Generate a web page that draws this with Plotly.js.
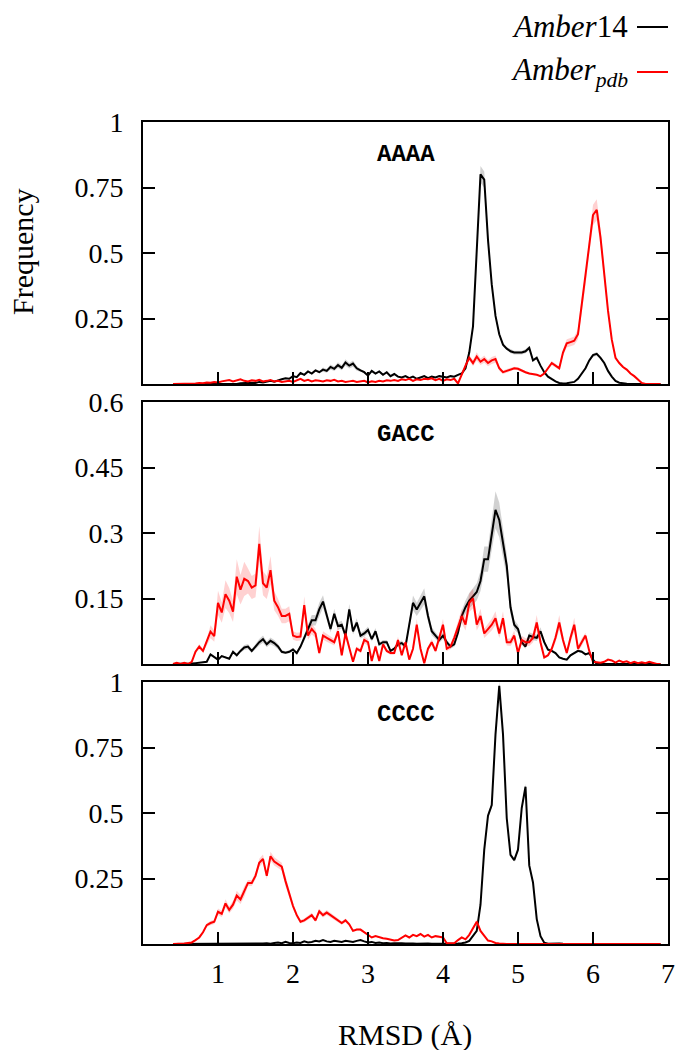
<!DOCTYPE html>
<html>
<head>
<meta charset="utf-8">
<script src="https://cdn.plot.ly/plotly-3.0.1.min.js"></script>
<style>html,body{margin:0;padding:0;background:#fff;}#chart{width:675px;height:1050px;}</style>
</head>
<body>
<div id="chart"></div>
<script>
// RMSD bin centres (Å)
const rmsd = [
0.40,0.45,0.50,0.55,0.60,0.65,0.70,0.75,0.80,0.85,
0.90,0.95,1.00,1.05,1.10,1.15,1.20,1.25,1.30,1.35,
1.40,1.45,1.50,1.55,1.60,1.65,1.70,1.75,1.80,1.85,
1.90,1.95,2.00,2.05,2.10,2.15,2.20,2.25,2.30,2.35,
2.40,2.45,2.50,2.55,2.60,2.65,2.70,2.75,2.80,2.85,
2.90,2.95,3.00,3.05,3.10,3.15,3.20,3.25,3.30,3.35,
3.40,3.45,3.50,3.55,3.60,3.65,3.70,3.75,3.80,3.85,
3.90,3.95,4.00,4.05,4.10,4.15,4.20,4.25,4.30,4.35,
4.40,4.45,4.50,4.55,4.60,4.65,4.70,4.75,4.80,4.85,
4.90,4.95,5.00,5.05,5.10,5.15,5.20,5.25,5.30,5.35,
5.40,5.45,5.50,5.55,5.60,5.65,5.70,5.75,5.80,5.85,
5.90,5.95,6.00,6.05,6.10,6.15,6.20,6.25,6.30,6.35,
6.40,6.45,6.50,6.55,6.60,6.65,6.70,6.75,6.80,6.85,
6.90];

// AAAA
const amber14_AAAA = [
0,0,0,0,0,0,0,0,0,0,
0,0,0,0,0,0,0.002,0,0.003,0.004,
0.003,0.005,0.004,0.008,0.006,0.01,0.012,0.009,0.015,0.018,
0.022,0.02,0.03,0.026,0.042,0.035,0.048,0.04,0.052,0.045,
0.055,0.05,0.065,0.058,0.072,0.062,0.082,0.07,0.078,0.06,
0.052,0.045,0.032,0.05,0.04,0.048,0.035,0.045,0.03,0.038,
0.028,0.025,0.03,0.022,0.028,0.02,0.025,0.03,0.022,0.028,
0.025,0.03,0.028,0.025,0.03,0.028,0.035,0.04,0.06,0.12,
0.22,0.5,0.8,0.78,0.55,0.38,0.26,0.19,0.15,0.135,
0.125,0.12,0.12,0.12,0.125,0.138,0.09,0.1,0.07,0.045,
0.028,0.018,0.01,0.004,0.002,0.003,0.005,0.008,0.02,0.04,
0.06,0.09,0.11,0.115,0.1,0.08,0.05,0.028,0.012,0.005,
0.002,0.001,0,0,0,0,0,0,0,0,
0];
const amberpdb_AAAA = [
0,0,0,0,0,0,0.002,0.004,0.003,0.006,
0.005,0.008,0.006,0.01,0.012,0.015,0.01,0.014,0.018,0.012,
0.01,0.014,0.012,0.016,0.01,0.012,0.015,0.01,0.012,0.008,
0.01,0.012,0.008,0.015,0.02,0.012,0.016,0.01,0.014,0.012,
0.01,0.014,0.012,0.016,0.01,0.012,0.008,0.01,0.012,0.008,
0.01,0.012,0.006,0.01,0.008,0.012,0.01,0.014,0.012,0.015,
0.012,0.018,0.015,0.02,0.012,0.018,0.015,0.02,0.018,0.022,
0.015,0.02,0.012,0.018,0.015,0.02,0.002,0.04,0.07,0.1,
0.08,0.105,0.085,0.095,0.08,0.09,0.095,0.06,0.045,0.05,
0.055,0.06,0.058,0.05,0.045,0.04,0.038,0.035,0.03,0.04,
0.06,0.08,0.07,0.06,0.12,0.155,0.16,0.165,0.19,0.3,
0.4,0.53,0.645,0.665,0.56,0.42,0.28,0.17,0.1,0.08,
0.065,0.055,0.04,0.03,0.015,0.004,0,0,0,0,
0];

// GACC
const amber14_GACC = [
0,0,0,0,0,0.001,0.002,0.003,0.005,0.005,
0.022,0.015,0.01,0.018,0.015,0.012,0.028,0.02,0.03,0.038,
0.04,0.03,0.04,0.05,0.057,0.045,0.053,0.048,0.04,0.028,
0.026,0.028,0.033,0.025,0.04,0.06,0.08,0.1,0.1,0.125,
0.143,0.112,0.08,0.115,0.087,0.09,0.065,0.125,0.075,0.095,
0.065,0.07,0.078,0.057,0.075,0.045,0.05,0.05,0.03,0.035,
0.045,0.048,0.04,0.09,0.14,0.125,0.14,0.155,0.11,0.075,
0.065,0.055,0.065,0.05,0.04,0.045,0.072,0.11,0.13,0.145,
0.155,0.165,0.19,0.24,0.24,0.3,0.353,0.33,0.28,0.225,
0.13,0.09,0.08,0.05,0.04,0.065,0.062,0.06,0.075,0.05,
0.033,0.03,0.025,0.015,0.012,0.01,0.02,0.025,0.03,0.028,
0.022,0.025,0.01,0,0,0,0,0,0,0,
0,0,0,0,0,0,0,0,0,0,
0];
const amberpdb_GACC = [
0,0.003,0,0.003,0,0.005,0.028,0.04,0.03,0.05,
0.074,0.064,0.14,0.118,0.16,0.145,0.12,0.2,0.17,0.195,
0.19,0.175,0.18,0.275,0.185,0.175,0.215,0.145,0.13,0.11,
0.11,0.115,0.065,0.062,0.063,0.135,0.065,0.08,0.07,0.025,
0.065,0.06,0.055,0.05,0.075,0.02,0.07,0.04,0.005,0.035,
0.03,0.055,0.05,0.007,0.04,0.007,0.045,0.03,0.025,0.025,
0.055,0.02,0.05,0.01,0.035,0.09,0.035,0.002,0.035,0.05,
0.03,0.06,0.09,0.035,0.04,0.06,0.083,0.11,0.09,0.14,
0.15,0.09,0.11,0.07,0.08,0.09,0.105,0.07,0.105,0.05,
0.05,0.065,0.025,0.055,0.05,0.05,0.06,0.095,0.05,0.015,
0.02,0.035,0.06,0.095,0.055,0.025,0.06,0.09,0.035,0.05,
0.065,0.03,0.005,0.004,0.003,0.005,0.01,0.008,0.003,0.008,
0.004,0.006,0.002,0.005,0.002,0.004,0.002,0.005,0.002,0,
0];

// CCCC
const amber14_CCCC = [
0,0,0,0,0,0,0,0,0,0,
0,0,0,0,0,0,0,0,0,0,
0,0,0.001,0,0.002,0.003,0.001,0.004,0.006,0.003,
0.008,0.004,0.003,0.006,0.004,0.01,0.006,0.008,0.012,0.01,
0.015,0.01,0.008,0.012,0.01,0.008,0.012,0.01,0.008,0.012,
0.015,0.01,0.006,0.008,0.004,0.006,0.003,0.004,0.002,0.003,
0.004,0.003,0.002,0.003,0.002,0.001,0.002,0.001,0.002,0.001,
0.001,0.001,0,0,0,0.001,0.002,0.003,0.006,0.012,
0.03,0.05,0.15,0.36,0.49,0.53,0.8,0.985,0.8,0.48,
0.34,0.32,0.36,0.52,0.6,0.3,0.235,0.095,0.03,0.005,
0.001,0.002,0.001,0.002,0.001,0,0,0,0,0,
0,0,0,0,0,0,0,0,0,0,
0,0,0,0,0,0,0,0,0,0,
0];
const amberpdb_CCCC = [
0,0,0.001,0.002,0.004,0.006,0.015,0.025,0.045,0.072,
0.08,0.085,0.123,0.115,0.155,0.13,0.15,0.185,0.17,0.2,
0.233,0.233,0.26,0.31,0.325,0.26,0.335,0.315,0.305,0.295,
0.24,0.19,0.145,0.11,0.085,0.09,0.1,0.11,0.09,0.125,
0.11,0.12,0.11,0.1,0.09,0.08,0.09,0.075,0.05,0.055,
0.055,0.045,0.038,0.025,0.03,0.025,0.022,0.02,0.015,0.013,
0.015,0.025,0.033,0.025,0.035,0.03,0.038,0.028,0.035,0.025,
0.03,0.028,0.025,0.003,0.002,0.003,0.015,0.025,0.018,0.035,
0.06,0.085,0.05,0.03,0.013,0.01,0.004,0.002,0,0,
0,0,0,0,0,0,0,0,0,0,
0,0,0,0,0,0,0,0,0,0,
0,0,0,0,0,0,0,0,0,0,
0,0,0,0,0,0,0,0,0,0,
0];

// relative spread of the shaded band, one value per 0.5 Å block
const spread14_AAAA  = [0,0,0,0.1,0.15,0.1,0.1,0.08,0.04,0.06,0.08,0.06,0.05,0];
const spreadpdb_AAAA = [0.1,0.1,0.1,0.1,0.1,0.1,0.1,0.1,0.15,0.1,0.1,0.06,0.08,0];
const spread14_GACC  = [0.1,0.15,0.15,0.12,0.1,0.1,0.12,0.12,0.12,0.12,0.1,0.1,0.1,0];
const spreadpdb_GACC = [0.15,0.2,0.15,0.15,0.15,0.15,0.15,0.15,0.15,0.18,0.18,0.1,0.1,0];
const spread14_CCCC  = [0,0,0,0.05,0.05,0.05,0.05,0.05,0.02,0.02,0.02,0,0,0];
const spreadpdb_CCCC = [0.1,0.1,0.05,0.08,0.08,0.08,0.08,0.1,0.1,0.1,0,0,0,0];

const panelNames = ['AAAA','GACC','CCCC'];
const xTicks = [1,2,3,4,5,6,7];
const yTicksA = [0.25,0.5,0.75,1];
const yTicksB = [0.15,0.3,0.45,0.6];

const BLACK = '#000000', RED = '#ff0000';
const GREYBAND = 'rgba(0,0,0,0.18)', PINKBAND = 'rgba(255,0,0,0.18)';

const traces = [];
function addSeries(xa, ya, vals, spread, color, band) {
  const lo = vals.map((v,i) => v*(1 - spread[Math.floor(i/10)]));
  const hi = vals.map((v,i) => v*(1 + spread[Math.floor(i/10)]));
  traces.push({x: rmsd, y: lo, xaxis: xa, yaxis: ya, type:'scatter', mode:'lines',
    line:{width:0, color: band}, hoverinfo:'skip', showlegend:false});
  traces.push({x: rmsd, y: hi, xaxis: xa, yaxis: ya, type:'scatter', mode:'lines',
    line:{width:0, color: band}, fill:'tonexty', fillcolor: band, hoverinfo:'skip', showlegend:false});
  traces.push({x: rmsd, y: vals, xaxis: xa, yaxis: ya, type:'scatter', mode:'lines',
    line:{width:2, color: color}, showlegend:false});
}
addSeries('x','y', amber14_AAAA, spread14_AAAA, BLACK, GREYBAND);
addSeries('x','y', amberpdb_AAAA, spreadpdb_AAAA, RED, PINKBAND);
addSeries('x2','y2', amber14_GACC, spread14_GACC, BLACK, GREYBAND);
addSeries('x2','y2', amberpdb_GACC, spreadpdb_GACC, RED, PINKBAND);
addSeries('x3','y3', amber14_CCCC, spread14_CCCC, BLACK, GREYBAND);
addSeries('x3','y3', amberpdb_CCCC, spreadpdb_CCCC, RED, PINKBAND);

const SERIF = 'Liberation Serif, Times New Roman, serif';
const MONO = 'Liberation Mono, DejaVu Sans Mono, monospace';
const H = 1050, W = 675, ML = 143, MR = 7;
const PW = W - ML - MR;
const dom = (top, bot) => [1 - bot/H, 1 - top/H];
const px = p => (p - ML) / PW;    // pixel x -> paper x
const py = p => 1 - p / H;        // pixel y -> paper y

function xax(anchor, labels) {
  return {anchor: anchor, range:[0,7], tickvals: xTicks, ticks:'inside', ticklen:12, tickwidth:2,
    tickcolor:'#000', showline:true, linewidth:2, linecolor:'#000', mirror:true,
    showgrid:false, zeroline:false, showticklabels: labels, ticklabelstandoff: 3,
    tickfont:{family: SERIF, size: 28, color:'#000'}};
}
function yax(anchor, domain, range, ticks) {
  return {anchor: anchor, domain: domain, range: range, tickvals: ticks, ticks:'inside', ticklen:12,
    tickwidth:2, tickcolor:'#000', showline:true, linewidth:2, linecolor:'#000', mirror:'ticks',
    showgrid:false, zeroline:false, ticklabelstandoff: 12,
    tickfont:{family: SERIF, size: 28, color:'#000'}};
}

const panelFont = {family: MONO, size:24, color:'#000', weight:'bold'};
const annotations = [
  {xref:'x', yref:'y domain', x:3.5, y:0.875, xanchor:'center', yanchor:'middle', text: panelNames[0],
    showarrow:false, font: panelFont},
  {xref:'x2', yref:'y2 domain', x:3.5, y:0.875, xanchor:'center', yanchor:'middle', text: panelNames[1],
    showarrow:false, font: panelFont},
  {xref:'x3', yref:'y3 domain', x:3.5, y:0.875, xanchor:'center', yanchor:'middle', text: panelNames[2],
    showarrow:false, font: panelFont},
  {xref:'paper', yref:'paper', x: px(22), y: py(252), xanchor:'center', yanchor:'middle',
    text:'Frequency', textangle:-90, showarrow:false, font:{family: SERIF, size: 30, color:'#000'}},
  {xref:'paper', yref:'paper', x: px(405), y: py(1035), xanchor:'center', yanchor:'middle',
    text:'RMSD (Å)', showarrow:false, font:{family: SERIF, size: 30, color:'#000'}},
  {xref:'paper', yref:'paper', x: px(630), y: py(27), xanchor:'right', yanchor:'middle',
    text:'<i>Amber</i>14', showarrow:false, font:{family: SERIF, size: 31, color:'#000'}},
  {xref:'paper', yref:'paper', x: px(630), y: py(72), xanchor:'right', yanchor:'middle',
    text:'<i>Amber</i><sub><i>pdb</i></sub>', showarrow:false, font:{family: SERIF, size: 31, color:'#000'}}
];
const shapes = [
  {type:'line', xref:'paper', yref:'paper', x0: px(637), x1: px(668), y0: py(27), y1: py(27),
    line:{color: BLACK, width:2}},
  {type:'line', xref:'paper', yref:'paper', x0: px(637), x1: px(668), y0: py(72), y1: py(72),
    line:{color: RED, width:2}}
];

const layout = {
  width: W, height: H,
  margin:{l:ML, r:MR, t:0, b:0},
  paper_bgcolor:'#fff', plot_bgcolor:'#fff',
  showlegend:false,
  xaxis: xax('y', false),
  xaxis2: xax('y2', false),
  xaxis3: xax('y3', true),
  yaxis: yax('x', dom(122,384), [0,1], yTicksA),
  yaxis2: yax('x2', dom(402,664), [0,0.6], yTicksB),
  yaxis3: yax('x3', dom(682,944), [0,1], yTicksA),
  annotations: annotations,
  shapes: shapes
};

Plotly.newPlot('chart', traces, layout, {displayModeBar:false, staticPlot:true});
</script>
</body>
</html>
